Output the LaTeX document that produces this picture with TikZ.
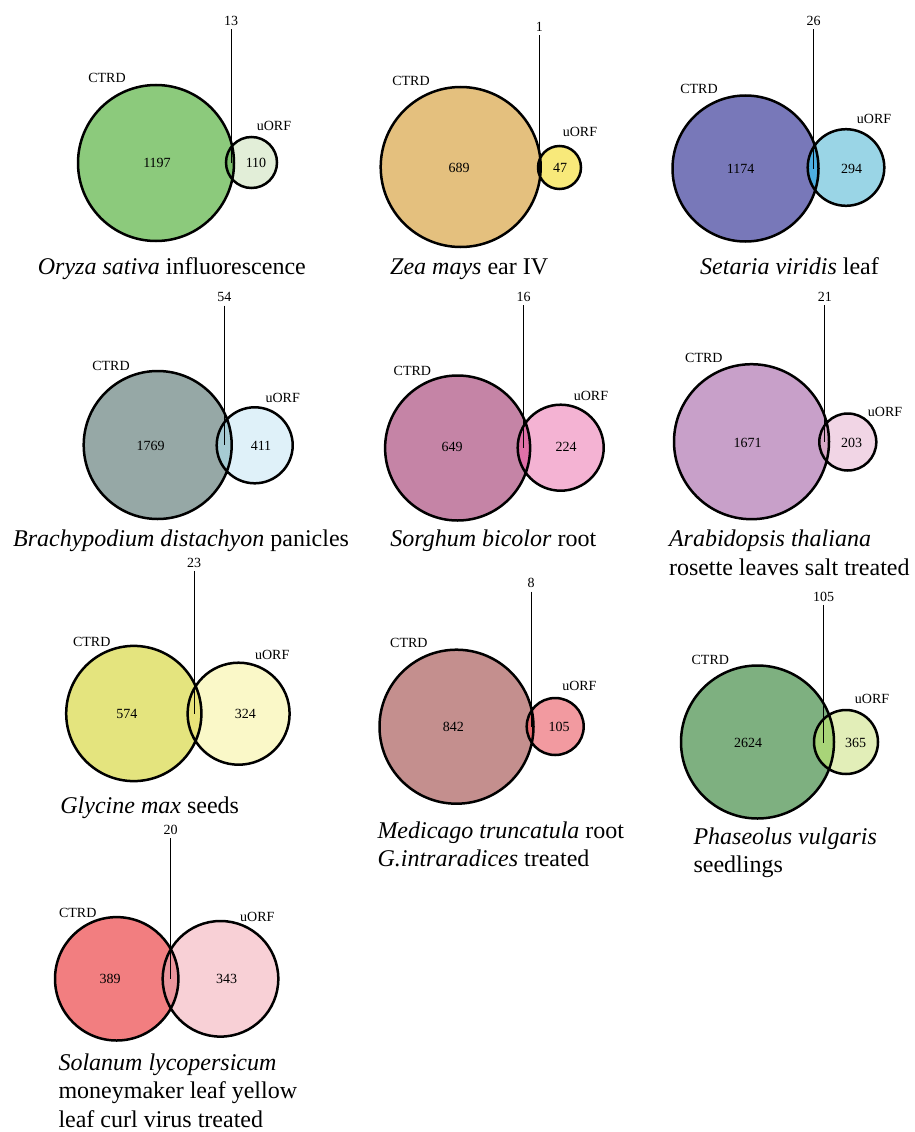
\documentclass[tikz,border=0pt]{standalone}
\usepackage{fontspec}
\setmainfont{Liberation Serif}
\usepackage{tikz}

\definecolor{ctrdA}{HTML}{8CCA7C}\definecolor{uorfA}{HTML}{E2EED8}\definecolor{lensA}{HTML}{7CBF6C}
\definecolor{ctrdB}{HTML}{E4C07E}\definecolor{uorfB}{HTML}{F8E97A}\definecolor{lensB}{HTML}{EBC45A}
\definecolor{ctrdC}{HTML}{7878B9}\definecolor{uorfC}{HTML}{9AD5E6}\definecolor{lensC}{HTML}{4DAEE0}
\definecolor{ctrdD}{HTML}{96A8A6}\definecolor{uorfD}{HTML}{DFF1F9}\definecolor{lensD}{HTML}{A6CBD3}
\definecolor{ctrdE}{HTML}{C584A6}\definecolor{uorfE}{HTML}{F4B3D3}\definecolor{lensE}{HTML}{E070A8}
\definecolor{ctrdF}{HTML}{C8A0C9}\definecolor{uorfF}{HTML}{F1D5E5}\definecolor{lensF}{HTML}{D8A8C8}
\definecolor{ctrdG}{HTML}{E4E47E}\definecolor{uorfG}{HTML}{FAF8C8}\definecolor{lensG}{HTML}{E8E27A}
\definecolor{ctrdH}{HTML}{C48F8E}\definecolor{uorfH}{HTML}{F29AA0}\definecolor{lensH}{HTML}{E86A6E}
\definecolor{ctrdI}{HTML}{7EB080}\definecolor{uorfI}{HTML}{E2EEB8}\definecolor{lensI}{HTML}{A8D478}
\definecolor{ctrdJ}{HTML}{F27E80}\definecolor{uorfJ}{HTML}{F8D0D6}\definecolor{lensJ}{HTML}{EB959C}

\tikzset{
  set/.style={circle, inner sep=0pt},
  ring/.style={line width=2.5pt},
  leader/.style={line width=0.8pt},
  caption/.style={font=\fontsize{24}{28.5}\selectfont, inner sep=0pt, anchor=base west, align=left}
}

\begin{document}
\begin{tikzpicture}[x=1pt, y=-1pt, font=\fontsize{14}{16}\selectfont]
\useasboundingbox (0,0) rectangle (914,1132);

% Oryza sativa
\node (circA) [set, fill=ctrdA, minimum size=156pt] at (156,163) {};
\node (circA1) [set, fill=uorfA, minimum size=51pt] at (251.5,162.5) {};
\begin{scope}
\clip (circA.center) circle (78);
\fill[lensA] (circA1.center) circle (25.5);
\end{scope}
\draw[ring] (circA.center) circle (78) (circA1.center) circle (25.5);
\node (labA) at (107,78) {CTRD};
\node (labA1) at (274,126) {uORF};
\node (numA) at (157,163) {1197};
\node (numA1) at (256,163) {110};
\node (cntA) at (231,21) {13};
\coordinate (tipA) at (231,163);
\draw[leader] (cntA) -- (tipA);
\node (capA) [caption] at (37.7,274) {\textit{Oryza sativa} influorescence};

% Zea mays
\node (circB) [set, fill=ctrdB, minimum size=160pt] at (460.7,167) {};
\node (circB1) [set, fill=uorfB, minimum size=43pt] at (559.5,167.5) {};
\begin{scope}
\clip (circB.center) circle (80);
\fill[lensB] (circB1.center) circle (21.5);
\end{scope}
\draw[ring] (circB.center) circle (80) (circB1.center) circle (21.5);
\node (labB) at (411,81) {CTRD};
\node (labB1) at (580,132) {uORF};
\node (numB) at (459,168) {689};
\node (numB1) at (560,168) {47};
\node (cntB) at (539.3,27) {1};
\coordinate (tipB) at (539.3,167);
\draw[leader] (cntB) -- (tipB);
\node (capB) [caption] at (390,274) {\textit{Zea mays} ear IV};

% Setaria viridis
\node (circC) [set, fill=ctrdC, minimum size=146pt] at (745.5,168.5) {};
\node (circC1) [set, fill=uorfC, minimum size=76.6pt] at (846,167.5) {};
\begin{scope}
\clip (circC.center) circle (73);
\fill[lensC] (circC1.center) circle (38.3);
\end{scope}
\draw[ring] (circC.center) circle (73) (circC1.center) circle (38.3);
\node (labC) at (699,89) {CTRD};
\node (labC1) at (874,119) {uORF};
\node (numC) at (740.7,169) {1174};
\node (numC1) at (851.7,169) {294};
\node (cntC) at (813.7,21) {26};
\coordinate (tipC) at (813.7,169);
\draw[leader] (cntC) -- (tipC);
\node (capC) [caption] at (700,274) {\textit{Setaria viridis} leaf};

% Brachypodium distachyon
\node (circD) [set, fill=ctrdD, minimum size=148pt] at (157.7,445) {};
\node (circD1) [set, fill=uorfD, minimum size=76pt] at (254.7,445.3) {};
\begin{scope}
\clip (circD.center) circle (74);
\fill[lensD] (circD1.center) circle (38);
\end{scope}
\draw[ring] (circD.center) circle (74) (circD1.center) circle (38);
\node (labD) at (111,366) {CTRD};
\node (labD1) at (282.7,398.3) {uORF};
\node (numD) at (150.7,445.7) {1769};
\node (numD1) at (261,445.7) {411};
\node (cntD) at (224.3,297.3) {54};
\coordinate (tipD) at (224.3,445);
\draw[leader] (cntD) -- (tipD);
\node (capD) [caption] at (12.9,546.7) {\textit{Brachypodium distachyon} panicles};

% Sorghum bicolor
\node (circE) [set, fill=ctrdE, minimum size=145pt] at (457.6,448) {};
\node (circE1) [set, fill=uorfE, minimum size=86pt] at (560.7,447.7) {};
\begin{scope}
\clip (circE.center) circle (72.5);
\fill[lensE] (circE1.center) circle (43);
\end{scope}
\draw[ring] (circE.center) circle (72.5) (circE1.center) circle (43);
\node (labE) at (412.4,370.7) {CTRD};
\node (labE1) at (591,395.7) {uORF};
\node (numE) at (452,447.3) {649};
\node (numE1) at (566,447.3) {224};
\node (cntE) at (523.5,297) {16};
\coordinate (tipE) at (523.5,447.5);
\draw[leader] (cntE) -- (tipE);
\node (capE) [caption] at (390.2,546.7) {\textit{Sorghum bicolor} root};

% Arabidopsis thaliana
\node (circF) [set, fill=ctrdF, minimum size=155pt] at (751.5,441.7) {};
\node (circF1) [set, fill=uorfF, minimum size=57pt] at (847.8,442) {};
\begin{scope}
\clip (circF.center) circle (77.5);
\fill[lensF] (circF1.center) circle (28.5);
\end{scope}
\draw[ring] (circF.center) circle (77.5) (circF1.center) circle (28.5);
\node (labF) at (703.9,358.3) {CTRD};
\node (labF1) at (885,411.7) {uORF};
\node (numF) at (747.7,443.3) {1671};
\node (numF1) at (851.6,443.3) {203};
\node (cntF) at (824.8,297) {21};
\coordinate (tipF) at (824.8,442);
\draw[leader] (cntF) -- (tipF);
\node (capF) [caption] at (668.8,575) {\textit{Arabidopsis thaliana}\\rosette leaves salt treated};

% Glycine max
\node (circG) [set, fill=ctrdG, minimum size=135.2pt] at (133.8,713.5) {};
\node (circG1) [set, fill=uorfG, minimum size=102pt] at (238.6,713.7) {};
\begin{scope}
\clip (circG.center) circle (67.6);
\fill[lensG] (circG1.center) circle (51);
\end{scope}
\draw[ring] (circG.center) circle (67.6) (circG1.center) circle (51);
\node (labG) at (91.7,641.7) {CTRD};
\node (labG1) at (272.2,655.3) {uORF};
\node (numG) at (126.8,714.3) {574};
\node (numG1) at (245.3,714.3) {324};
\node (cntG) at (194,562.7) {23};
\coordinate (tipG) at (194,714);
\draw[leader] (cntG) -- (tipG);
\node (capG) [caption] at (60.2,813.3) {\textit{Glycine max} seeds};

% Medicago truncatula
\node (circH) [set, fill=ctrdH, minimum size=154pt] at (456.5,726.7) {};
\node (circH1) [set, fill=uorfH, minimum size=57pt] at (555.2,726.5) {};
\begin{scope}
\clip (circH.center) circle (77);
\fill[lensH] (circH1.center) circle (28.5);
\end{scope}
\draw[ring] (circH.center) circle (77) (circH1.center) circle (28.5);
\node (labH) at (408.9,643.3) {CTRD};
\node (labH1) at (579.4,686) {uORF};
\node (numH) at (453.3,726.7) {842};
\node (numH1) at (559,726.7) {105};
\node (cntH) at (531,583.3) {8};
\coordinate (tipH) at (531,727);
\draw[leader] (cntH) -- (tipH);
\node (capH) [caption] at (377.3,866.7) {\textit{Medicago truncatula} root\\\textit{G.intraradices} treated};

% Phaseolus vulgaris
\node (circI) [set, fill=ctrdI, minimum size=153pt] at (757.5,742) {};
\node (circI1) [set, fill=uorfI, minimum size=64pt] at (846,742) {};
\begin{scope}
\clip (circI.center) circle (76.5);
\fill[lensI] (circI1.center) circle (32);
\end{scope}
\draw[ring] (circI.center) circle (76.5) (circI1.center) circle (32);
\node (labI) at (710.3,660) {CTRD};
\node (labI1) at (872,698.7) {uORF};
\node (numI) at (748.2,742.7) {2624};
\node (numI1) at (855.7,742.7) {365};
\node (cntI) at (823.5,596.7) {105};
\coordinate (tipI) at (823.5,742.7);
\draw[leader] (cntI) -- (tipI);
\node (capI) [caption] at (693.3,872.7) {\textit{Phaseolus vulgaris}\\seedlings};

% Solanum lycopersicum
\node (circJ) [set, fill=ctrdJ, minimum size=123.4pt] at (116.7,978.8) {};
\node (circJ1) [set, fill=uorfJ, minimum size=115.6pt] at (220.5,978.8) {};
\begin{scope}
\clip (circJ.center) circle (61.7);
\fill[lensJ] (circJ1.center) circle (57.8);
\end{scope}
\draw[ring] (circJ.center) circle (61.7) (circJ1.center) circle (57.8);
\node (labJ) at (77.7,913.3) {CTRD};
\node (labJ1) at (257.3,916.7) {uORF};
\node (numJ) at (110,979.3) {389};
\node (numJ1) at (226.7,979.3) {343};
\node (cntJ) at (170.7,830) {20};
\coordinate (tipJ) at (170.7,979);
\draw[leader] (cntJ) -- (tipJ);
\node (capJ) [caption] at (58.3,1127.3) {\textit{Solanum lycopersicum}\\moneymaker leaf yellow\\leaf curl virus treated};
\end{tikzpicture}
\end{document}
